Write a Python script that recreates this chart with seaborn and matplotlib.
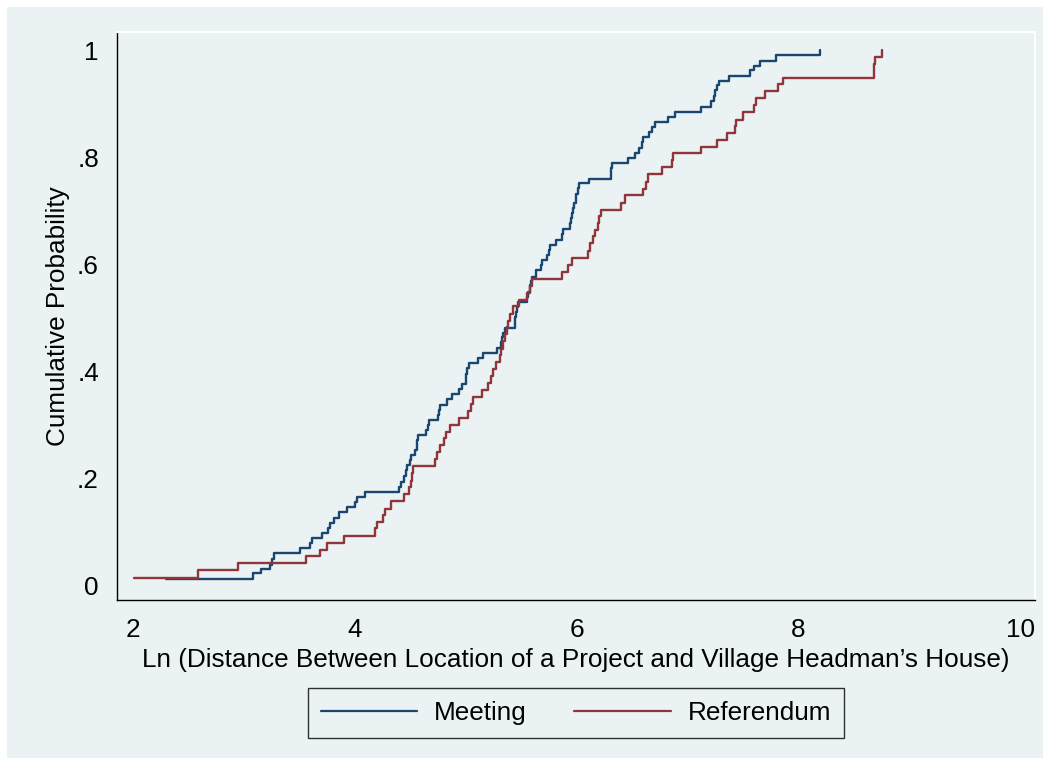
import numpy as np
import pandas as pd
import seaborn as sns
import matplotlib.pyplot as plt
from matplotlib.lines import Line2D
from matplotlib.patches import Rectangle

# step points of the two cumulative distributions
meeting_x = [2.30, 3.08, 3.15, 3.24, 3.25, 3.27, 3.51, 3.60, 3.61, 3.70,
             3.76, 3.78, 3.81, 3.86, 3.93, 4.00, 4.02, 4.09, 4.40, 4.42,
             4.44, 4.46, 4.47, 4.50, 4.51, 4.54, 4.56, 4.565, 4.57, 4.64,
             4.66, 4.67, 4.75, 4.76, 4.77, 4.83, 4.88, 4.94, 4.97, 5.00,
             5.005, 5.01, 5.03, 5.11, 5.16, 5.28, 5.32, 5.33, 5.34, 5.35,
             5.44, 5.445, 5.454, 5.46, 5.47, 5.55, 5.56, 5.58, 5.59, 5.60,
             5.63, 5.68, 5.69, 5.73, 5.75, 5.76, 5.81, 5.87, 5.875, 5.94,
             5.95, 5.955, 5.97, 5.98, 5.99, 5.992, 6.01, 6.02, 6.11, 6.31,
             6.312, 6.32, 6.46, 6.53, 6.56, 6.59, 6.60, 6.65, 6.68, 6.71,
             6.82, 6.89, 7.12, 7.21, 7.24, 7.25, 7.27, 7.28, 7.37, 7.56,
             7.60, 7.65, 7.80, 8.19]
meeting_y = [0.011, 0.022, 0.030, 0.037, 0.048, 0.059, 0.069, 0.078, 0.087, 0.097,
             0.106, 0.116, 0.126, 0.136, 0.145, 0.156, 0.164, 0.174, 0.184, 0.193,
             0.204, 0.215, 0.224, 0.234, 0.243, 0.252, 0.262, 0.271, 0.280, 0.290,
             0.299, 0.309, 0.318, 0.327, 0.337, 0.347, 0.357, 0.366, 0.376, 0.386,
             0.395, 0.405, 0.416, 0.424, 0.434, 0.444, 0.454, 0.463, 0.472, 0.481,
             0.492, 0.501, 0.511, 0.520, 0.530, 0.539, 0.548, 0.561, 0.568, 0.576,
             0.589, 0.598, 0.607, 0.617, 0.626, 0.636, 0.645, 0.656, 0.665, 0.676,
             0.686, 0.695, 0.704, 0.714, 0.723, 0.732, 0.742, 0.751, 0.760, 0.771,
             0.780, 0.789, 0.799, 0.808, 0.818, 0.829, 0.838, 0.847, 0.857, 0.866,
             0.875, 0.885, 0.894, 0.905, 0.914, 0.925, 0.935, 0.943, 0.952, 0.963,
             0.971, 0.980, 0.991, 1.000]

referendum_x = [2.01, 2.59, 2.95, 3.56, 3.69, 3.75, 3.90, 4.18, 4.20, 4.25,
                4.27, 4.33, 4.44, 4.49, 4.51, 4.516, 4.522, 4.72, 4.74, 4.77,
                4.80, 4.82, 4.86, 4.94, 5.02, 5.05, 5.07, 5.15, 5.20, 5.23,
                5.25, 5.27, 5.31, 5.32, 5.34, 5.35, 5.37, 5.38, 5.40, 5.43,
                5.48, 5.55, 5.58, 5.60, 5.87, 5.92, 5.96, 6.10, 6.12, 6.15,
                6.17, 6.19, 6.20, 6.22, 6.40, 6.44, 6.60, 6.63, 6.64, 6.77,
                6.86, 6.87, 7.12, 7.27, 7.36, 7.43, 7.44, 7.50, 7.60, 7.62,
                7.70, 7.82, 7.86, 8.68, 8.684, 8.69, 8.75]
referendum_y = [0.014, 0.028, 0.041, 0.054, 0.066, 0.079, 0.092, 0.106, 0.118, 0.131,
                0.143, 0.158, 0.170, 0.183, 0.195, 0.209, 0.222, 0.236, 0.248, 0.261,
                0.274, 0.287, 0.299, 0.312, 0.325, 0.338, 0.352, 0.364, 0.377, 0.391,
                0.404, 0.417, 0.430, 0.442, 0.456, 0.470, 0.482, 0.494, 0.507, 0.521,
                0.533, 0.546, 0.560, 0.573, 0.586, 0.598, 0.611, 0.625, 0.639, 0.652,
                0.664, 0.677, 0.690, 0.702, 0.715, 0.729, 0.741, 0.754, 0.768, 0.781,
                0.794, 0.807, 0.819, 0.832, 0.845, 0.858, 0.870, 0.884, 0.897, 0.910,
                0.923, 0.936, 0.948, 0.963, 0.975, 0.987, 1.000]

groups = ['Meeting', 'Referendum']
colors = ['#1a476f', '#90353b']
yticks = [0, 0.2, 0.4, 0.6, 0.8, 1]
ytick_labels = ['0', '.2', '.4', '.6', '.8', '1']
xticks = [2, 4, 6, 8, 10]

df = pd.concat([
    pd.DataFrame({'lndist': meeting_x, 'cumprob': meeting_y, 'group': groups[0]}),
    pd.DataFrame({'lndist': referendum_x, 'cumprob': referendum_y, 'group': groups[1]}),
], ignore_index=True)

sns.set_style('white')
plt.rcParams['font.family'] = ['Liberation Sans', 'DejaVu Sans']
plt.rcParams['text.color'] = 'black'
plt.rcParams['axes.labelcolor'] = 'black'
plt.rcParams['xtick.color'] = 'black'
plt.rcParams['ytick.color'] = 'black'
bg = '#eaf2f3'
fs = 18.8

fig = plt.figure(figsize=(10.5, 7.65), dpi=100, facecolor='white')
fig.patches.append(Rectangle((7 / 1050, 7 / 765), 1036 / 1050, 751 / 765,
                             transform=fig.transFigure, facecolor=bg,
                             edgecolor='none', zorder=-10))
ax = fig.add_axes([117 / 1050, 1 - 600 / 765, 918 / 1050, 568 / 765])
ax.set_facecolor(bg)

sns.lineplot(data=df, x='lndist', y='cumprob', hue='group',
             palette=dict(zip(groups, colors)), estimator=None,
             drawstyle='steps-post', linewidth=1.7, legend=False, ax=ax)

ax.set_xlim(1.856, 10.133)
ax.set_ylim(-0.028, 1.034)
ax.set_xticks(xticks)
ax.set_yticks(yticks)
ax.set_yticklabels(ytick_labels)
ax.tick_params(direction='out', length=6, width=1, color='black',
               labelcolor='black', labelsize=fs, pad=7)
for side in ['left', 'bottom']:
    ax.spines[side].set_color('black')
    ax.spines[side].set_linewidth(1)
for side in ['top', 'right']:
    ax.spines[side].set_color('white')
    ax.spines[side].set_linewidth(1.5)

ax.set_xlabel("Ln (Distance Between Location of a Project and Village Headman\u2019s House)",
              fontsize=fs, labelpad=4, color='black')
ax.set_ylabel('Cumulative Probability', fontsize=fs, labelpad=5, color='black')

handles = [Line2D([], [], color=c, lw=1.6) for c in colors]
leg = fig.legend(handles, groups, loc='center',
                 bbox_to_anchor=(576 / 1050, 1 - 713 / 765), ncol=2,
                 fontsize=fs, frameon=True, fancybox=False,
                 handlelength=3.7, handletextpad=0.65, columnspacing=1.8,
                 borderpad=0.5)
leg.get_frame().set_edgecolor('black')
leg.get_frame().set_linewidth(1)
leg.get_frame().set_facecolor(bg)
for t in leg.get_texts():
    t.set_color('black')

fig.savefig('out.png', dpi=100, facecolor='white')
